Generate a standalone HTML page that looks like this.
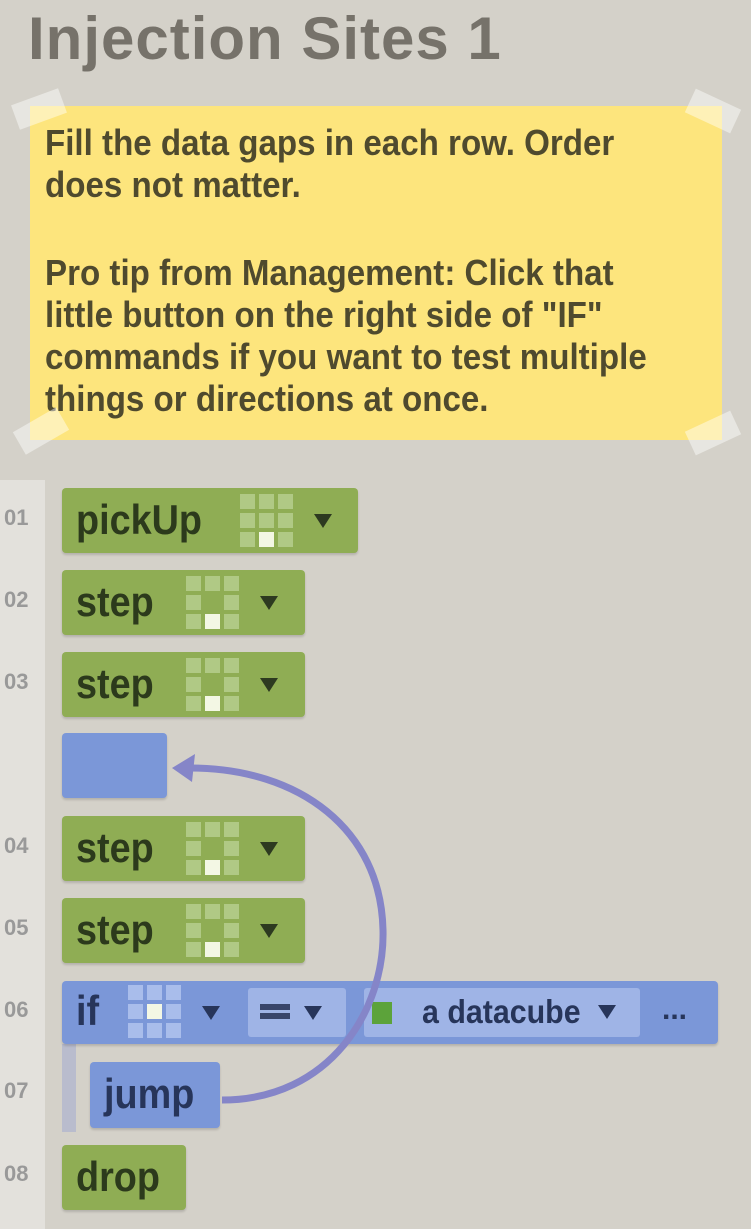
<!DOCTYPE html><html><head><style>
body{margin:0;width:751px;height:1229px;background:#d4d1c9;position:relative;overflow:hidden;font-family:"Liberation Sans Narrow","Liberation Sans",sans-serif;font-weight:bold}
.a{position:absolute}
.title{left:28px;top:4px;font-size:60px;color:#76726a;letter-spacing:1px}
.note{left:30px;top:106px;width:692px;height:334px;background:#fde57d}
.note div{position:absolute;left:15px;font-size:36px;color:#4f4a2e;line-height:42px;transform:scaleX(.92);transform-origin:left}
.tape{background:rgba(255,255,255,.45);width:50px;height:26px}
.gut{left:0;top:480px;width:45px;height:749px;background:#e3e1dc}
.ln{left:4px;font-size:22px;color:#999}
.g{background:#8fad54;border-radius:4px;box-shadow:0 2px 2px rgba(0,0,0,.15)}
.b{background:#7b97d8;border-radius:4px;box-shadow:0 2px 2px rgba(0,0,0,.15)}
.t{position:absolute;left:14px;top:8px;font-size:42px;color:#2c3a1c;transform:scaleX(.9);transform-origin:left}
.bt{color:#27355a}
.tri{position:absolute;width:0;height:0;border-left:9px solid transparent;border-right:9px solid transparent;border-top:14px solid #2d3a20}
.grid{position:absolute;display:grid;grid-template-columns:repeat(3,15px);gap:4px}
.grid i{width:15px;height:15px;background:#b0c985;display:block}
.grid i.w{background:#f3f7e4}.grid i.n{background:transparent}
</style></head><body>
<div class="a title">Injection Sites 1</div>
<div class="a note">
<div style="top:16px">Fill the data gaps in each row. Order<br>does not matter.</div>
<div style="top:146px">Pro tip from Management: Click that<br>little button on the right side of "IF"<br>commands if you want to test multiple<br>things or directions at once.</div>
</div>
<div class="a tape" style="left:14px;top:96px;transform:rotate(-20deg)"></div>
<div class="a tape" style="left:688px;top:98px;transform:rotate(25deg)"></div>
<div class="a tape" style="left:16px;top:418px;transform:rotate(-30deg)"></div>
<div class="a tape" style="left:688px;top:420px;transform:rotate(-25deg)"></div>
<div class="a gut"></div>
<div class="a ln" style="top:505px">01</div><div class="a ln" style="top:587px">02</div><div class="a ln" style="top:669px">03</div><div class="a ln" style="top:833px">04</div><div class="a ln" style="top:915px">05</div><div class="a ln" style="top:997px">06</div><div class="a ln" style="top:1078px">07</div><div class="a ln" style="top:1161px">08</div>

<div class="a g" style="left:62px;top:488px;width:296px;height:65px"><div class="t">pickUp</div>
<div class="grid" style="left:178px;top:6px"><i></i><i></i><i></i><i></i><i></i><i></i><i></i><i class="w"></i><i></i></div><div class="tri" style="left:252px;top:26px"></div></div>
<div class="a g" style="left:62px;top:570px;width:243px;height:65px"><div class="t">step</div>
<div class="grid" style="left:124px;top:6px"><i></i><i></i><i></i><i></i><i class="n"></i><i></i><i></i><i class="w"></i><i></i></div><div class="tri" style="left:198px;top:26px"></div></div>
<div class="a g" style="left:62px;top:652px;width:243px;height:65px"><div class="t">step</div>
<div class="grid" style="left:124px;top:6px"><i></i><i></i><i></i><i></i><i class="n"></i><i></i><i></i><i class="w"></i><i></i></div><div class="tri" style="left:198px;top:26px"></div></div>
<div class="a b" style="left:62px;top:733px;width:105px;height:65px"></div>
<div class="a g" style="left:62px;top:816px;width:243px;height:65px"><div class="t">step</div>
<div class="grid" style="left:124px;top:6px"><i></i><i></i><i></i><i></i><i class="n"></i><i></i><i></i><i class="w"></i><i></i></div><div class="tri" style="left:198px;top:26px"></div></div>
<div class="a g" style="left:62px;top:898px;width:243px;height:65px"><div class="t">step</div>
<div class="grid" style="left:124px;top:6px"><i></i><i></i><i></i><i></i><i class="n"></i><i></i><i></i><i class="w"></i><i></i></div><div class="tri" style="left:198px;top:26px"></div></div>

<div class="a" style="left:62px;top:1044px;width:14px;height:88px;background:#b9bccd"></div>
<div class="a b" style="left:62px;top:981px;width:656px;height:63px">
<div class="t bt" style="top:6px">if</div>
<div class="grid" style="left:66px;top:4px"><i style="background:#a9bdeb"></i><i style="background:#a9bdeb"></i><i style="background:#a9bdeb"></i><i style="background:#a9bdeb"></i><i class="w"></i><i style="background:#a9bdeb"></i><i style="background:#a9bdeb"></i><i style="background:#a9bdeb"></i><i style="background:#a9bdeb"></i></div>
<div class="tri" style="left:140px;top:25px;border-top-color:#27355a"></div>
<div class="a" style="left:186px;top:7px;width:98px;height:49px;background:#9fb4e6;border-radius:3px"><div class="a" style="left:12px;top:16px;width:30px;height:6px;background:#38456a;box-shadow:0 9px 0 #38456a"></div><div class="tri" style="left:56px;top:18px;border-top-color:#27355a"></div></div>
<div class="a" style="left:302px;top:7px;width:276px;height:49px;background:#9fb4e6;border-radius:3px"><div class="a" style="left:8px;top:14px;width:20px;height:22px;background:#5ca33a"></div><div class="a" style="left:58px;top:5px;font-size:33px;color:#27355a;transform:scaleX(.92);transform-origin:left">a datacube</div><div class="tri" style="left:234px;top:17px;border-top-color:#27355a"></div></div>
<div class="a" style="left:600px;top:12px;font-size:30px;color:#27355a">...</div>
</div>
<div class="a b" style="left:90px;top:1062px;width:130px;height:66px"><div class="t bt">jump</div></div>
<div class="a g" style="left:62px;top:1145px;width:124px;height:65px"><div class="t">drop</div></div>
<svg class="a" style="left:0;top:0" width="751" height="1229">
<path d="M222 1100 C330 1100 385 1010 383 930 C381 830 300 768 190 768" fill="none" stroke="#8585c8" stroke-width="7"/>
<polygon points="172,768 195,754 192,782" fill="#8585c8"/>
</svg>
</body></html>
